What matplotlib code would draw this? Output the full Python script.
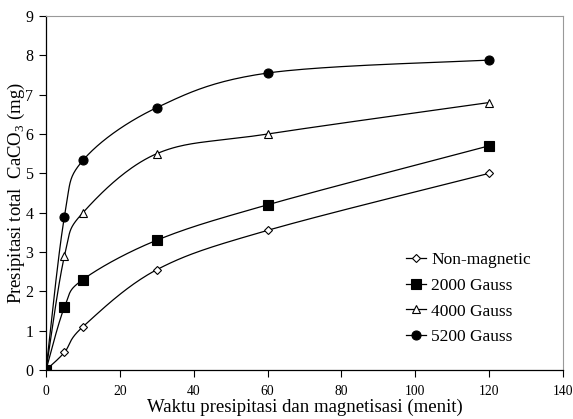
import numpy as np
import matplotlib
matplotlib.use("Agg")
import matplotlib.pyplot as plt

plt.rcParams['font.family'] = ['Liberation Serif', 'DejaVu Serif']
plt.rcParams['mathtext.fontset'] = 'custom'
plt.rcParams['mathtext.rm'] = 'Liberation Serif'

time = [0, 5, 10, 30, 60, 120]
non_magnetic = [0, 0.45, 1.1, 2.55, 3.55, 5.0]
g2000 = [0, 1.6, 2.3, 3.3, 4.2, 5.7]
g4000 = [0, 2.9, 4.0, 5.5, 6.0, 6.8]
g5200 = [0, 3.9, 5.33, 6.67, 7.55, 7.88]
labels = ['Non-magnetic', '2000 Gauss', '4000 Gauss', '5200 Gauss']
markers = ['D', 's', '^', 'o']
facecolors = ['white', 'black', 'white', 'black']
msizes = [4.5, 6.5, 6, 6.5]


def smooth(x, y, n=40):
    # Excel-like smoothed line: cubic Bezier with Catmull-Rom control points
    x = np.asarray(x, float); y = np.asarray(y, float)
    xs, ys = [], []
    t = np.linspace(0, 1, n)
    for i in range(len(x) - 1):
        p0 = np.array([x[i], y[i]]); p3 = np.array([x[i+1], y[i+1]])
        pm = np.array([x[i-1], y[i-1]]) if i > 0 else p0
        pp = np.array([x[i+2], y[i+2]]) if i + 2 < len(x) else p3
        p1 = p0 + (p3 - pm) / 6.0
        p2 = p3 - (pp - p0) / 6.0
        pts = ((1-t)**3)[:, None]*p0 + (3*(1-t)**2*t)[:, None]*p1 + (3*(1-t)*t**2)[:, None]*p2 + (t**3)[:, None]*p3
        xs.extend(pts[:, 0]); ys.extend(pts[:, 1])
    return xs, ys


W, H = 573, 419
fig = plt.figure(figsize=(W/100, H/100), dpi=100)
ax = fig.add_axes([46/W, 1-370/H, (563-46)/W, (370-16)/H])

for yv, lab, mk, fc, ms in zip([non_magnetic, g2000, g4000, g5200], labels, markers, facecolors, msizes):
    sx, sy = smooth(time, yv)
    ax.plot(sx, sy, color='black', lw=0.9, zorder=2)
    ax.plot(time, yv, linestyle='none', marker=mk, mfc=fc, mec='black', mew=0.8, ms=ms, zorder=3)
    ax.plot([], [], color='black', lw=0.9, marker=mk, mfc=fc, mec='black', mew=0.8, ms=ms, label=lab)

ax.set_xlim(0, 140)
ax.set_ylim(0, 9)
ax.set_xticks(range(0, 141, 20))
ax.set_yticks(range(0, 10))
ax.tick_params(direction='out', length=5, width=0.8, colors='black')
ax.tick_params(axis='x', labelsize=9.8, pad=6)
ax.tick_params(axis='y', labelsize=11.5, pad=4)
for s in ['top', 'right']:
    ax.spines[s].set_color('#999999')
    ax.spines[s].set_linewidth(0.8)
for s in ['left', 'bottom']:
    ax.spines[s].set_linewidth(0.9)

ax.set_xlabel('Waktu presipitasi dan magnetisasi (menit)', fontsize=13.5, labelpad=0)
ax.set_ylabel('Presipitasi total  CaCO$_3$ (mg)', fontsize=13.5, va='center')
ax.yaxis.set_label_coords(-(46 - 16) / 517, 0.5)

leg = fig.legend(loc='upper left', bbox_to_anchor=(406/W, 1-252/H), frameon=False, fontsize=12.5,
                 handlelength=1.15, handletextpad=0.3, labelspacing=0.55, borderpad=0, borderaxespad=0)

fig.savefig('out.png', dpi=100)
